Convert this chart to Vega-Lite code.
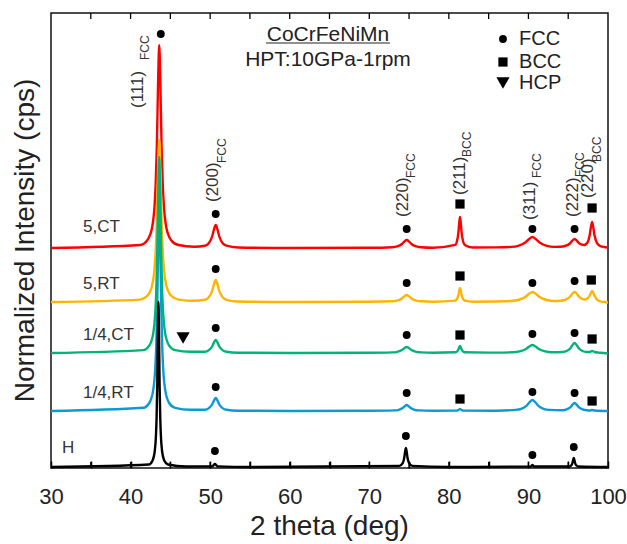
{
  "$schema": "https://vega.github.io/schema/vega-lite/v6.json",
  "width": 557,
  "height": 455,
  "autosize": {"type": "none"},
  "padding": {"left": 51, "top": 13, "right": 19, "bottom": 76},
  "background": "white",
  "config": {"view": {"stroke": "#111", "strokeWidth": 1.5}, "font": "Liberation Sans"},
  "datasets": {
    "lines": [
      {"s":"5,CT","x":30,"y":220},{"s":"5,CT","x":41.2,"y":223},{"s":"5,CT","x":42.1,"y":227.8},{"s":"5,CT","x":42.7,"y":240.3},{"s":"5,CT","x":43.0,"y":260.6},{"s":"5,CT","x":43.15,"y":282.5},{"s":"5,CT","x":43.3,"y":321.5},{"s":"5,CT","x":43.45,"y":382.4},{"s":"5,CT","x":43.6,"y":423},{"s":"5,CT","x":43.75,"y":382.4},{"s":"5,CT","x":43.9,"y":321.5},{"s":"5,CT","x":44.05,"y":282.5},{"s":"5,CT","x":44.2,"y":260.6},{"s":"5,CT","x":44.5,"y":240.3},{"s":"5,CT","x":45.1,"y":227.8},{"s":"5,CT","x":46.0,"y":223},{"s":"5,CT","x":48.0,"y":221.3},{"s":"5,CT","x":49.35,"y":222.3},{"s":"5,CT","x":49.8,"y":224.6},{"s":"5,CT","x":50.25,"y":231.5},{"s":"5,CT","x":50.475,"y":238.4},{"s":"5,CT","x":50.7,"y":243},{"s":"5,CT","x":50.925,"y":238.4},{"s":"5,CT","x":51.15,"y":231.5},{"s":"5,CT","x":51.6,"y":224.6},{"s":"5,CT","x":52.05,"y":222.3},{"s":"5,CT","x":53.5,"y":220.5},{"s":"5,CT","x":60,"y":220},{"s":"5,CT","x":70,"y":220.2},{"s":"5,CT","x":72.9,"y":220.8},{"s":"5,CT","x":73.5,"y":221.6},{"s":"5,CT","x":74.1,"y":224},{"s":"5,CT","x":74.4,"y":226.4},{"s":"5,CT","x":74.7,"y":228},{"s":"5,CT","x":75.0,"y":226.4},{"s":"5,CT","x":75.3,"y":224},{"s":"5,CT","x":75.9,"y":221.6},{"s":"5,CT","x":76.5,"y":220.8},{"s":"5,CT","x":78,"y":220.3},{"s":"5,CT","x":80.8,"y":223.1},{"s":"5,CT","x":81.0,"y":226.2},{"s":"5,CT","x":81.2,"y":235.5},{"s":"5,CT","x":81.3,"y":244.8},{"s":"5,CT","x":81.4,"y":251},{"s":"5,CT","x":81.5,"y":244.8},{"s":"5,CT","x":81.6,"y":235.5},{"s":"5,CT","x":81.8,"y":226.2},{"s":"5,CT","x":82.0,"y":223.1},{"s":"5,CT","x":83.0,"y":220.5},{"s":"5,CT","x":86,"y":220.6},{"s":"5,CT","x":87.8,"y":221.1},{"s":"5,CT","x":88.7,"y":222.2},{"s":"5,CT","x":89.6,"y":225.5},{"s":"5,CT","x":90.05,"y":228.8},{"s":"5,CT","x":90.5,"y":231},{"s":"5,CT","x":90.95,"y":228.8},{"s":"5,CT","x":91.4,"y":225.5},{"s":"5,CT","x":92.3,"y":222.2},{"s":"5,CT","x":93.2,"y":221.1},{"s":"5,CT","x":94.0,"y":221.2},{"s":"5,CT","x":94.6,"y":222},{"s":"5,CT","x":95.2,"y":224.5},{"s":"5,CT","x":95.5,"y":227.2},{"s":"5,CT","x":95.8,"y":229},{"s":"5,CT","x":96.1,"y":227.2},{"s":"5,CT","x":96.4,"y":224.5},{"s":"5,CT","x":97.0,"y":223},{"s":"5,CT","x":97.4,"y":225.2},{"s":"5,CT","x":97.7,"y":233},{"s":"5,CT","x":97.85,"y":240.8},{"s":"5,CT","x":98.0,"y":246},{"s":"5,CT","x":98.15,"y":240.8},{"s":"5,CT","x":98.3,"y":233},{"s":"5,CT","x":98.6,"y":225.2},{"s":"5,CT","x":98.9,"y":222.6},{"s":"5,CT","x":99.5,"y":221},{"s":"5,CT","x":100,"y":220.5},

      {"s":"5,RT","x":30,"y":166},{"s":"5,RT","x":41.2,"y":168.4},{"s":"5,RT","x":42.1,"y":172.2},{"s":"5,RT","x":42.7,"y":182.2},{"s":"5,RT","x":43.0,"y":198.4},{"s":"5,RT","x":43.15,"y":215.9},{"s":"5,RT","x":43.3,"y":247},{"s":"5,RT","x":43.45,"y":295.6},{"s":"5,RT","x":43.6,"y":328},{"s":"5,RT","x":43.75,"y":295.6},{"s":"5,RT","x":43.9,"y":247},{"s":"5,RT","x":44.05,"y":215.9},{"s":"5,RT","x":44.2,"y":198.4},{"s":"5,RT","x":44.5,"y":182.2},{"s":"5,RT","x":45.1,"y":172.2},{"s":"5,RT","x":46.0,"y":168.4},{"s":"5,RT","x":48.0,"y":167.2},{"s":"5,RT","x":49.35,"y":168.2},{"s":"5,RT","x":49.8,"y":170.4},{"s":"5,RT","x":50.25,"y":177},{"s":"5,RT","x":50.475,"y":183.6},{"s":"5,RT","x":50.7,"y":188},{"s":"5,RT","x":50.925,"y":183.6},{"s":"5,RT","x":51.15,"y":177},{"s":"5,RT","x":51.6,"y":170.4},{"s":"5,RT","x":52.05,"y":168.2},{"s":"5,RT","x":53.5,"y":166.5},{"s":"5,RT","x":60,"y":166},{"s":"5,RT","x":70,"y":166.2},{"s":"5,RT","x":72.9,"y":166.7},{"s":"5,RT","x":73.5,"y":167.4},{"s":"5,RT","x":74.1,"y":169.5},{"s":"5,RT","x":74.4,"y":171.6},{"s":"5,RT","x":74.7,"y":173},{"s":"5,RT","x":75.0,"y":171.6},{"s":"5,RT","x":75.3,"y":169.5},{"s":"5,RT","x":75.9,"y":167.4},{"s":"5,RT","x":76.5,"y":166.7},{"s":"5,RT","x":78,"y":166.3},{"s":"5,RT","x":80.8,"y":167.4},{"s":"5,RT","x":81.0,"y":168.8},{"s":"5,RT","x":81.2,"y":173},{"s":"5,RT","x":81.3,"y":177.2},{"s":"5,RT","x":81.4,"y":180},{"s":"5,RT","x":81.5,"y":177.2},{"s":"5,RT","x":81.6,"y":173},{"s":"5,RT","x":81.8,"y":168.8},{"s":"5,RT","x":82.0,"y":167.4},{"s":"5,RT","x":83.0,"y":166.3},{"s":"5,RT","x":86,"y":166.5},{"s":"5,RT","x":87.8,"y":167},{"s":"5,RT","x":88.7,"y":168},{"s":"5,RT","x":89.6,"y":171},{"s":"5,RT","x":90.05,"y":174},{"s":"5,RT","x":90.5,"y":176},{"s":"5,RT","x":90.95,"y":174},{"s":"5,RT","x":91.4,"y":171},{"s":"5,RT","x":92.3,"y":168},{"s":"5,RT","x":93.2,"y":167},{"s":"5,RT","x":94.0,"y":167.2},{"s":"5,RT","x":94.6,"y":168.2},{"s":"5,RT","x":95.2,"y":171},{"s":"5,RT","x":95.5,"y":174},{"s":"5,RT","x":95.8,"y":176},{"s":"5,RT","x":96.1,"y":174},{"s":"5,RT","x":96.4,"y":171},{"s":"5,RT","x":97.0,"y":168.5},{"s":"5,RT","x":97.4,"y":169.5},{"s":"5,RT","x":97.7,"y":172.5},{"s":"5,RT","x":97.85,"y":175},{"s":"5,RT","x":98.0,"y":177},{"s":"5,RT","x":98.15,"y":175},{"s":"5,RT","x":98.3,"y":172.5},{"s":"5,RT","x":98.6,"y":168.5},{"s":"5,RT","x":98.9,"y":167},{"s":"5,RT","x":99.5,"y":166},{"s":"5,RT","x":100,"y":165.5},

      {"s":"1/4,RT","x":30,"y":57},{"s":"1/4,RT","x":41.6,"y":60.2},{"s":"1/4,RT","x":42.35,"y":65},{"s":"1/4,RT","x":42.85,"y":78.1},{"s":"1/4,RT","x":43.1,"y":99.2},{"s":"1/4,RT","x":43.225,"y":122},{"s":"1/4,RT","x":43.35,"y":162.5},{"s":"1/4,RT","x":43.475,"y":225.8},{"s":"1/4,RT","x":43.6,"y":268},{"s":"1/4,RT","x":43.725,"y":225.8},{"s":"1/4,RT","x":43.85,"y":162.5},{"s":"1/4,RT","x":43.975,"y":122},{"s":"1/4,RT","x":44.1,"y":99.2},{"s":"1/4,RT","x":44.35,"y":78.1},{"s":"1/4,RT","x":44.85,"y":65},{"s":"1/4,RT","x":45.6,"y":60.2},{"s":"1/4,RT","x":47.5,"y":58.3},{"s":"1/4,RT","x":49.35,"y":58.3},{"s":"1/4,RT","x":49.8,"y":59.6},{"s":"1/4,RT","x":50.25,"y":63.5},{"s":"1/4,RT","x":50.475,"y":67.4},{"s":"1/4,RT","x":50.7,"y":70},{"s":"1/4,RT","x":50.925,"y":67.4},{"s":"1/4,RT","x":51.15,"y":63.5},{"s":"1/4,RT","x":51.6,"y":59.6},{"s":"1/4,RT","x":52.05,"y":58.3},{"s":"1/4,RT","x":53.5,"y":57.3},{"s":"1/4,RT","x":60,"y":57},{"s":"1/4,RT","x":70,"y":57.2},{"s":"1/4,RT","x":73.2,"y":57.6},{"s":"1/4,RT","x":73.7,"y":58.2},{"s":"1/4,RT","x":74.2,"y":60},{"s":"1/4,RT","x":74.45,"y":61.8},{"s":"1/4,RT","x":74.7,"y":63},{"s":"1/4,RT","x":74.95,"y":61.8},{"s":"1/4,RT","x":75.2,"y":60},{"s":"1/4,RT","x":75.7,"y":58.2},{"s":"1/4,RT","x":76.2,"y":57.6},{"s":"1/4,RT","x":78,"y":57.2},{"s":"1/4,RT","x":81.0,"y":57.4},{"s":"1/4,RT","x":81.2,"y":58},{"s":"1/4,RT","x":81.4,"y":59},{"s":"1/4,RT","x":81.6,"y":58},{"s":"1/4,RT","x":81.8,"y":57.4},{"s":"1/4,RT","x":86,"y":57.3},{"s":"1/4,RT","x":88.4,"y":58.1},{"s":"1/4,RT","x":89.1,"y":59.2},{"s":"1/4,RT","x":89.8,"y":62.5},{"s":"1/4,RT","x":90.15,"y":65.8},{"s":"1/4,RT","x":90.5,"y":68},{"s":"1/4,RT","x":90.85,"y":65.8},{"s":"1/4,RT","x":91.2,"y":62.5},{"s":"1/4,RT","x":91.9,"y":59.2},{"s":"1/4,RT","x":92.6,"y":58.1},{"s":"1/4,RT","x":94.3,"y":57.8},{"s":"1/4,RT","x":94.8,"y":58.6},{"s":"1/4,RT","x":95.3,"y":61},{"s":"1/4,RT","x":95.55,"y":63.4},{"s":"1/4,RT","x":95.8,"y":65},{"s":"1/4,RT","x":96.05,"y":63.4},{"s":"1/4,RT","x":96.3,"y":61},{"s":"1/4,RT","x":96.8,"y":58.6},{"s":"1/4,RT","x":97.3,"y":57.8},{"s":"1/4,RT","x":97.7,"y":57.5},{"s":"1/4,RT","x":98.0,"y":58},{"s":"1/4,RT","x":98.3,"y":57.5},{"s":"1/4,RT","x":100,"y":57},

      {"s":"1/4,CT","x":30,"y":115},{"s":"1/4,CT","x":41.6,"y":117.9},{"s":"1/4,CT","x":42.35,"y":122.4},{"s":"1/4,CT","x":42.85,"y":134.6},{"s":"1/4,CT","x":43.1,"y":154.2},{"s":"1/4,CT","x":43.225,"y":175.4},{"s":"1/4,CT","x":43.35,"y":213},{"s":"1/4,CT","x":43.475,"y":271.8},{"s":"1/4,CT","x":43.6,"y":311},{"s":"1/4,CT","x":43.725,"y":271.8},{"s":"1/4,CT","x":43.85,"y":213},{"s":"1/4,CT","x":43.975,"y":175.4},{"s":"1/4,CT","x":44.1,"y":154.2},{"s":"1/4,CT","x":44.35,"y":134.6},{"s":"1/4,CT","x":44.85,"y":122.4},{"s":"1/4,CT","x":45.6,"y":117.9},{"s":"1/4,CT","x":47.5,"y":116.3},{"s":"1/4,CT","x":49.35,"y":116.3},{"s":"1/4,CT","x":49.8,"y":117.6},{"s":"1/4,CT","x":50.25,"y":121.5},{"s":"1/4,CT","x":50.475,"y":125.4},{"s":"1/4,CT","x":50.7,"y":128},{"s":"1/4,CT","x":50.925,"y":125.4},{"s":"1/4,CT","x":51.15,"y":121.5},{"s":"1/4,CT","x":51.6,"y":117.6},{"s":"1/4,CT","x":52.05,"y":116.3},{"s":"1/4,CT","x":53.5,"y":115.3},{"s":"1/4,CT","x":60,"y":115},{"s":"1/4,CT","x":70,"y":115.2},{"s":"1/4,CT","x":72.9,"y":115.6},{"s":"1/4,CT","x":73.5,"y":116.2},{"s":"1/4,CT","x":74.1,"y":118},{"s":"1/4,CT","x":74.4,"y":119.8},{"s":"1/4,CT","x":74.7,"y":121},{"s":"1/4,CT","x":75.0,"y":119.8},{"s":"1/4,CT","x":75.3,"y":118},{"s":"1/4,CT","x":75.9,"y":116.2},{"s":"1/4,CT","x":76.5,"y":115.6},{"s":"1/4,CT","x":78,"y":115.3},{"s":"1/4,CT","x":80.8,"y":115.7},{"s":"1/4,CT","x":81.0,"y":116.4},{"s":"1/4,CT","x":81.2,"y":118.5},{"s":"1/4,CT","x":81.3,"y":120.6},{"s":"1/4,CT","x":81.4,"y":122},{"s":"1/4,CT","x":81.5,"y":120.6},{"s":"1/4,CT","x":81.6,"y":118.5},{"s":"1/4,CT","x":81.8,"y":116.4},{"s":"1/4,CT","x":82.0,"y":115.7},{"s":"1/4,CT","x":86,"y":115.4},{"s":"1/4,CT","x":88.1,"y":115.8},{"s":"1/4,CT","x":88.9,"y":116.6},{"s":"1/4,CT","x":89.7,"y":119},{"s":"1/4,CT","x":90.1,"y":121.4},{"s":"1/4,CT","x":90.5,"y":123},{"s":"1/4,CT","x":90.9,"y":121.4},{"s":"1/4,CT","x":91.3,"y":119},{"s":"1/4,CT","x":92.1,"y":116.6},{"s":"1/4,CT","x":92.9,"y":115.8},{"s":"1/4,CT","x":94.3,"y":116},{"s":"1/4,CT","x":94.8,"y":117},{"s":"1/4,CT","x":95.3,"y":120},{"s":"1/4,CT","x":95.55,"y":123},{"s":"1/4,CT","x":95.8,"y":125},{"s":"1/4,CT","x":96.05,"y":123},{"s":"1/4,CT","x":96.3,"y":120},{"s":"1/4,CT","x":96.8,"y":117},{"s":"1/4,CT","x":97.3,"y":116},{"s":"1/4,CT","x":97.7,"y":116},{"s":"1/4,CT","x":98.0,"y":117},{"s":"1/4,CT","x":98.3,"y":116},{"s":"1/4,CT","x":99,"y":115.2},{"s":"1/4,CT","x":100,"y":114.5},

      {"s":"H","x":30,"y":1},{"s":"H","x":42.3,"y":3.5},{"s":"H","x":42.75,"y":7.3},{"s":"H","x":43.05,"y":17.5},{"s":"H","x":43.2,"y":34},{"s":"H","x":43.275,"y":51.8},{"s":"H","x":43.35,"y":83.5},{"s":"H","x":43.425,"y":133},{"s":"H","x":43.5,"y":166},{"s":"H","x":43.575,"y":133},{"s":"H","x":43.65,"y":83.5},{"s":"H","x":43.725,"y":51.8},{"s":"H","x":43.8,"y":34},{"s":"H","x":43.95,"y":17.5},{"s":"H","x":44.25,"y":7.3},{"s":"H","x":44.7,"y":3.5},{"s":"H","x":47,"y":1.5},{"s":"H","x":50.2,"y":1.6},{"s":"H","x":50.4,"y":2.5},{"s":"H","x":50.6,"y":4},{"s":"H","x":50.8,"y":2.5},{"s":"H","x":51.0,"y":1.6},{"s":"H","x":55,"y":1},{"s":"H","x":73.8,"y":2.1},{"s":"H","x":74.2,"y":4.8},{"s":"H","x":74.4,"y":10.5},{"s":"H","x":74.5,"y":16.2},{"s":"H","x":74.6,"y":20},{"s":"H","x":74.7,"y":16.2},{"s":"H","x":74.8,"y":10.5},{"s":"H","x":75.0,"y":4.8},{"s":"H","x":75.4,"y":2.1},{"s":"H","x":80,"y":1},{"s":"H","x":90.3,"y":1.5},{"s":"H","x":90.5,"y":3},{"s":"H","x":90.7,"y":1.5},{"s":"H","x":95.1,"y":1.5},{"s":"H","x":95.4,"y":2.8},{"s":"H","x":95.55,"y":5.5},{"s":"H","x":95.625,"y":8.2},{"s":"H","x":95.7,"y":10},{"s":"H","x":95.775,"y":8.2},{"s":"H","x":95.85,"y":5.5},{"s":"H","x":96.0,"y":2.8},{"s":"H","x":96.3,"y":1.5},{"s":"H","x":100,"y":1}
    ],
    "markers": [
      {"x":43.8,"y":434,"p":"FCC"},
      {"x":50.7,"y":254,"p":"FCC"},{"x":74.7,"y":239,"p":"FCC"},{"x":90.5,"y":239,"p":"FCC"},{"x":95.8,"y":239,"p":"FCC"},{"x":81.4,"y":264,"p":"BCC"},{"x":98.0,"y":260,"p":"BCC"},
      {"x":50.7,"y":199,"p":"FCC"},{"x":74.7,"y":185,"p":"FCC"},{"x":90.5,"y":185,"p":"FCC"},{"x":95.8,"y":187,"p":"FCC"},{"x":81.4,"y":192,"p":"BCC"},{"x":97.9,"y":188,"p":"BCC"},
      {"x":50.7,"y":140,"p":"FCC"},{"x":74.7,"y":133,"p":"FCC"},{"x":90.5,"y":134,"p":"FCC"},{"x":95.8,"y":135,"p":"FCC"},{"x":81.4,"y":133,"p":"BCC"},{"x":98.0,"y":129,"p":"BCC"},{"x":46.6,"y":130,"p":"HCP"},
      {"x":50.7,"y":81,"p":"FCC"},{"x":74.7,"y":75,"p":"FCC"},{"x":90.5,"y":76,"p":"FCC"},{"x":95.8,"y":75,"p":"FCC"},{"x":81.4,"y":69,"p":"BCC"},{"x":98.0,"y":67,"p":"BCC"},
      {"x":50.6,"y":17,"p":"FCC"},{"x":74.6,"y":32,"p":"FCC"},{"x":90.5,"y":13,"p":"FCC"},{"x":95.7,"y":21,"p":"FCC"},
      {"x":86.8,"y":429,"p":"FCC"},{"x":86.8,"y":406,"p":"BCC"},{"x":86.8,"y":385,"p":"HCP"}
    ],
    "peakmain": [
      {"x":40.93,"y":360,"t":"(111)"},
      {"x":50.36,"y":266,"t":"(200)"},
      {"x":74.24,"y":251,"t":"(220)"},
      {"x":81.40,"y":273,"t":"(211)"},
      {"x":90.2,"y":248,"t":"(311)"},
      {"x":95.6,"y":251,"t":"(222)"},
      {"x":97.49,"y":270,"t":"(220)"}
    ],
    "peaksub": [
      {"x":41.81,"y":408,"t":"FCC"},
      {"x":51.49,"y":305,"t":"FCC"},
      {"x":75.24,"y":290,"t":"FCC"},
      {"x":82.28,"y":311,"t":"BCC"},
      {"x":91.08,"y":290,"t":"FCC"},
      {"x":96.48,"y":291,"t":"FCC"},
      {"x":98.62,"y":306,"t":"BCC"}
    ],
    "samples": [
      {"x":34.02,"y":241,"t":"5,CT"},
      {"x":34.02,"y":184,"t":"5,RT"},
      {"x":34.02,"y":133,"t":"1/4,CT"},
      {"x":34.02,"y":75,"t":"1/4,RT"},
      {"x":31.38,"y":20,"t":"H"}
    ],
    "title1": [{"x":64.81,"y":433,"t":"CoCrFeNiMn"}],
    "title2": [{"x":64.81,"y":408,"t":"HPT:10GPa-1rpm"}],
    "underline": [{"x":57.02,"x2":72.6,"y":425}],
    "legend": [
      {"x":88.82,"y":429,"t":"FCC"},
      {"x":88.82,"y":406,"t":"BCC"},
      {"x":88.82,"y":385,"t":"HCP"}
    ],
    "tickpos": [
      {"t":35},{"t":40},{"t":45},{"t":50},{"t":55},{"t":60},{"t":65},{"t":70},{"t":75},{"t":80},{"t":85},{"t":90},{"t":95}
    ]
  },
  "resolve": {"axis": {"x": "independent"}},
  "layer": [
    {
      "data": {"name": "lines"},
      "mark": {"type": "line", "strokeWidth": 2.4, "interpolate": "monotone"},
      "encoding": {
        "x": {"field": "x", "type": "quantitative",
          "scale": {"domain": [30, 100], "nice": false, "zero": false},
          "axis": {"orient": "bottom", "offset": -7, "zindex": 1, "values": [30,35,40,45,50,55,60,65,70,75,80,85,90,95,100],
            "labelExpr": "datum.value % 10 === 0 ? datum.label : ''",
            "ticks": true, "tickSize": 7, "tickColor": "#000", "tickWidth": 1.5, "tickOpacity": 1, "domain": false, "grid": false,
            "labelFontSize": 22, "labelColor": "#222", "labelPadding": 18, "labelFlush": false, "labelOverlap": false,
            "title": "2 theta (deg)", "titleFontSize": 28, "titleFontWeight": "normal", "titleColor": "#222",
            "titleX": 278, "titleY": 65, "titleBaseline": "middle"}},
        "y": {"field": "y", "type": "quantitative",
          "scale": {"domain": [0, 455], "nice": false, "zero": false},
          "axis": {"labels": false, "ticks": false, "domain": false, "grid": false,
            "title": "Normalized Intensity (cps)", "titleFontSize": 28, "titleFontWeight": "normal", "titleColor": "#222",
            "titleX": -26, "titleY": 227, "titleBaseline": "middle", "titleAngle": 270, "titleAlign": "center"}},
        "color": {"field": "s", "type": "nominal",
          "scale": {"domain": ["5,CT", "5,RT", "1/4,RT", "1/4,CT", "H"], "range": ["#ff0000", "#ffb400", "#0a9bd6", "#00b377", "#000000"]},
          "legend": null}
      }
    },
    {
      "data": {"name": "tickpos"},
      "mark": {"type": "rule", "color": "#000", "strokeWidth": 1.3},
      "encoding": {
        "x": {"field": "t", "type": "quantitative", "axis": null},
        "y": {"datum": 0, "type": "quantitative"},
        "y2": {"datum": 6}
      }
    },
    {
      "data": {"name": "tickpos"},
      "mark": {"type": "rule", "color": "#000", "strokeWidth": 1.3},
      "encoding": {
        "x": {"field": "t", "type": "quantitative", "axis": null},
        "y": {"datum": 455, "type": "quantitative"},
        "y2": {"datum": 449}
      }
    },
    {
      "data": {"name": "underline"},
      "mark": {"type": "rule", "color": "#222", "strokeWidth": 1.2},
      "encoding": {
        "x": {"field": "x", "type": "quantitative", "axis": null},
        "x2": {"field": "x2"},
        "y": {"field": "y", "type": "quantitative"}
      }
    },
    {
      "data": {"name": "markers"},
      "mark": {"type": "point", "filled": true, "opacity": 1, "color": "#000"},
      "encoding": {
        "x": {"field": "x", "type": "quantitative", "axis": null},
        "y": {"field": "y", "type": "quantitative"},
        "shape": {"field": "p", "type": "nominal", "scale": {"domain": ["FCC", "BCC", "HCP"], "range": ["circle", "square", "triangle-down"]}, "legend": null},
        "size": {"field": "p", "type": "nominal", "scale": {"type": "ordinal", "domain": ["FCC", "BCC", "HCP"], "range": [62, 85, 175]}, "legend": null}
      }
    },
    {
      "data": {"name": "peakmain"},
      "mark": {"type": "text", "angle": 270, "align": "left", "baseline": "middle", "fontSize": 17, "color": "#333"},
      "encoding": {
        "x": {"field": "x", "type": "quantitative", "axis": null},
        "y": {"field": "y", "type": "quantitative"},
        "text": {"field": "t"}
      }
    },
    {
      "data": {"name": "peaksub"},
      "mark": {"type": "text", "angle": 270, "align": "left", "baseline": "middle", "fontSize": 12, "color": "#333"},
      "encoding": {
        "x": {"field": "x", "type": "quantitative", "axis": null},
        "y": {"field": "y", "type": "quantitative"},
        "text": {"field": "t"}
      }
    },
    {
      "data": {"name": "samples"},
      "mark": {"type": "text", "align": "left", "baseline": "middle", "fontSize": 17, "color": "#333"},
      "encoding": {
        "x": {"field": "x", "type": "quantitative", "axis": null},
        "y": {"field": "y", "type": "quantitative"},
        "text": {"field": "t"}
      }
    },
    {
      "data": {"name": "title1"},
      "mark": {"type": "text", "align": "center", "baseline": "middle", "fontSize": 21, "color": "#222"},
      "encoding": {
        "x": {"field": "x", "type": "quantitative", "axis": null},
        "y": {"field": "y", "type": "quantitative"},
        "text": {"field": "t"}
      }
    },
    {
      "data": {"name": "title2"},
      "mark": {"type": "text", "align": "center", "baseline": "middle", "fontSize": 21, "color": "#222"},
      "encoding": {
        "x": {"field": "x", "type": "quantitative", "axis": null},
        "y": {"field": "y", "type": "quantitative"},
        "text": {"field": "t"}
      }
    },
    {
      "data": {"name": "legend"},
      "mark": {"type": "text", "align": "left", "baseline": "middle", "fontSize": 20, "color": "#222"},
      "encoding": {
        "x": {"field": "x", "type": "quantitative", "axis": null},
        "y": {"field": "y", "type": "quantitative"},
        "text": {"field": "t"}
      }
    }
  ]
}
